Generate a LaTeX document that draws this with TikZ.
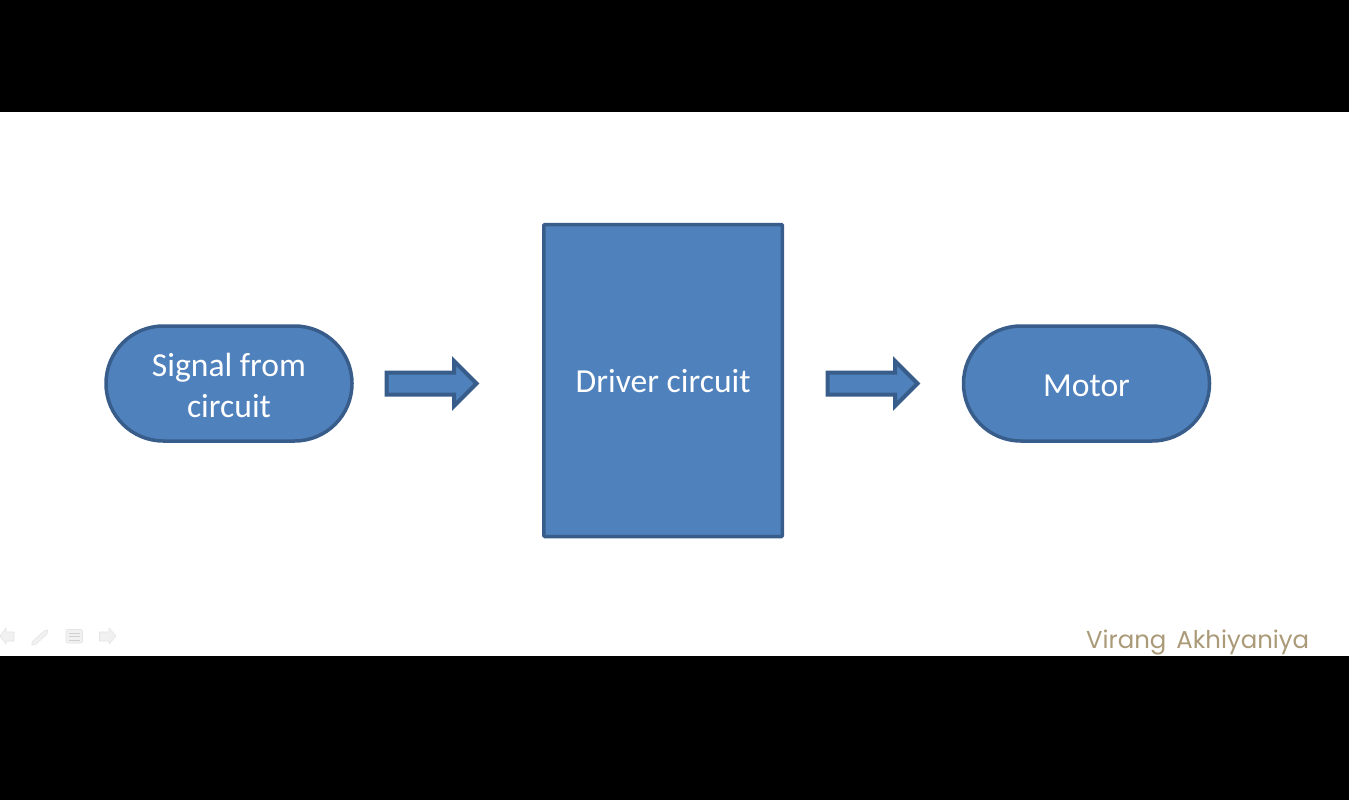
\documentclass[tikz,border=0pt]{standalone}
\usepackage{fontspec}
\setmainfont{Carlito}
\newfontfamily\signfont{Poppins}
\usetikzlibrary{shapes.arrows}
\definecolor{boxfill}{HTML}{4F81BD}
\definecolor{boxline}{HTML}{385D8A}
\definecolor{signtan}{HTML}{AB9A78}
\definecolor{navfill}{HTML}{F1F1F1}
\definecolor{navline}{HTML}{E4E4E4}
\tikzset{
  x=1pt,y=-1pt,
  blockbox/.style={draw=boxline,fill=boxfill,line width=3.5pt,text=white,align=center,
    font=\fontsize{33.6}{41}\selectfont,inner sep=0pt,outer sep=0pt,rounded corners=1pt},
  stadium/.style={blockbox,minimum width=246pt,minimum height=115pt,rounded corners=57.4pt},
  blockarrow/.style={single arrow,draw=boxline,fill=boxfill,line width=4pt,inner xsep=0pt,inner ysep=9pt,outer sep=0pt,
    minimum height=90pt,single arrow head extend=11.5pt,
    single arrow head indent=0pt,shape border rotate=0},
  band/.style={fill=black,draw=none},
  navicon/.style={fill=navfill,draw=navline,line width=0.6pt,line join=round},
  navrule/.style={draw=navline!80!gray,line width=1pt}
}
\begin{document}
\begin{tikzpicture}
\useasboundingbox (0,0) rectangle (1349,800);
\fill[white] (0,0) rectangle (1349,800);
\path[band] (0,0) rectangle (1349,112);
\path[band] (0,656) rectangle (1349,800);
% shapes
\node[stadium] (signal) at (229,383.5) {\rule{0pt}{27pt}Signal from\\circuit};
\node[blockbox,minimum width=238.5pt,minimum height=312pt] (driver) at (663.2,380.5) {\rule{0pt}{24pt}Driver circuit};
\node[stadium] (motor) at (1086.5,383.5) {\rule{0pt}{26pt}Motor};
\node[blockarrow] (arrowA) at (426,383.5) {};
\node[blockarrow] (arrowB) at (867,383.5) {};
% slide show controls
\path[navicon] (0,636) -- (6,628) -- (6,632) -- (14,632) -- (14,641) -- (6,641) -- (6,644) -- cycle;
\path[navicon] (32,642) -- (44,631) -- (48,630) -- (47,634) -- (36,644) -- (32,645) -- cycle;
\path[navicon,rounded corners=1.5pt] (66,629.5) rectangle (82.5,643);
\path[navrule] (69,633) -- (80,633) (69,636.5) -- (80,636.5) (69,640) -- (80,640);
\path[navicon] (116,636) -- (109,628) -- (109,632) -- (99.5,632) -- (99.5,641) -- (109,641) -- (109,644) -- cycle;
% signature
\node[anchor=base west,inner sep=0pt,text=signtan,font=\signfont\fontsize{24.4}{30}\selectfont] (sign) at (1086,648) {Virang\hspace{10pt}Akhiyaniya};
\end{tikzpicture}
\end{document}
